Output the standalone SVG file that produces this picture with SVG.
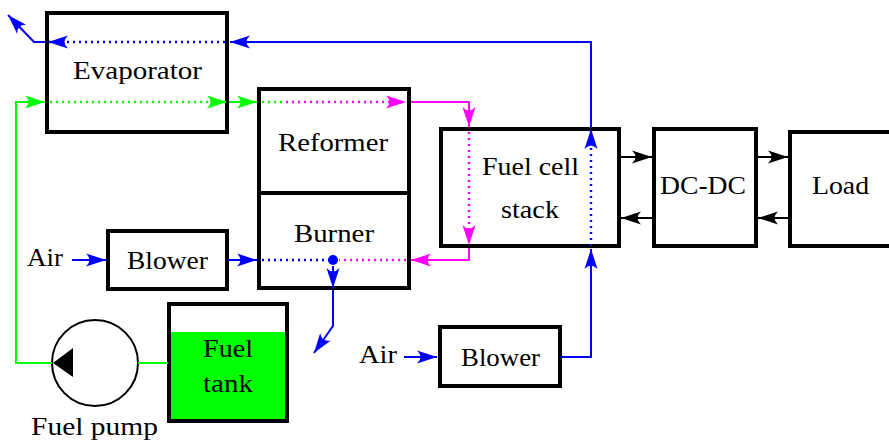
<svg xmlns="http://www.w3.org/2000/svg" width="889" height="444" viewBox="0 0 889 444">
<style>
.box{fill:#fff;stroke:#000;stroke-width:4}
.t{font-family:"Liberation Serif","DejaVu Serif",serif;font-size:26px;fill:#000}
.c{fill:none;stroke-width:2}
.b{stroke:#0000ff}
.g{stroke:#00ff00}
.m{stroke:#ff00ff}
.k{stroke:#000}
.d{stroke-dasharray:2 4;stroke-width:2.4}
</style>
<defs>
<marker id="ab" markerUnits="userSpaceOnUse" viewBox="-21 -8 22 16" markerWidth="22" markerHeight="16" refX="0" refY="0" orient="auto"><path d="M0,0 L-20,-6.5 Q-13,0 -20,6.5 Z" fill="#0000ff"/></marker>
<marker id="ag" markerUnits="userSpaceOnUse" viewBox="-21 -8 22 16" markerWidth="22" markerHeight="16" refX="0" refY="0" orient="auto"><path d="M0,0 L-20,-6.5 Q-13,0 -20,6.5 Z" fill="#00ff00"/></marker>
<marker id="am" markerUnits="userSpaceOnUse" viewBox="-21 -8 22 16" markerWidth="22" markerHeight="16" refX="0" refY="0" orient="auto"><path d="M0,0 L-20,-6.5 Q-13,0 -20,6.5 Z" fill="#ff00ff"/></marker>
<marker id="ak" markerUnits="userSpaceOnUse" viewBox="-21 -8 22 16" markerWidth="22" markerHeight="16" refX="0" refY="0" orient="auto"><path d="M0,0 L-20,-6.5 Q-13,0 -20,6.5 Z" fill="#000"/></marker>
</defs>

<g id="evaporator"><rect class="box" x="47" y="13" width="180" height="119"/><text class="t" x="73" y="79" textLength="129" lengthAdjust="spacingAndGlyphs">Evaporator</text></g>
<g id="reformer"><rect class="box" x="259" y="89" width="150" height="104"/><text class="t" x="278" y="151" textLength="110" lengthAdjust="spacingAndGlyphs">Reformer</text></g>
<g id="burner"><rect class="box" x="259" y="193" width="150" height="95"/><text class="t" x="294" y="242" textLength="80" lengthAdjust="spacingAndGlyphs">Burner</text></g>
<g id="stack"><rect class="box" x="441" y="129" width="178" height="117"/><text class="t" x="482" y="175" textLength="97" lengthAdjust="spacingAndGlyphs">Fuel cell</text><text class="t" x="501" y="218" textLength="58" lengthAdjust="spacingAndGlyphs">stack</text></g>
<g id="dcdc"><rect class="box" x="654" y="129" width="102" height="117"/><text class="t" x="660" y="194" textLength="86" lengthAdjust="spacingAndGlyphs">DC-DC</text></g>
<g id="load"><rect class="box" x="790" y="132" width="120" height="114"/><text class="t" x="812" y="194" textLength="57" lengthAdjust="spacingAndGlyphs">Load</text></g>
<g id="blower1"><rect class="box" x="108" y="231" width="119" height="58"/><text class="t" x="127" y="269" textLength="81" lengthAdjust="spacingAndGlyphs">Blower</text></g>
<g id="blower2"><rect class="box" x="440" y="327" width="120" height="59"/><text class="t" x="461" y="366" textLength="79" lengthAdjust="spacingAndGlyphs">Blower</text></g>
<g id="tank"><rect x="169" y="332" width="118" height="89" fill="#00ff00"/><rect x="169" y="304" width="118" height="117" fill="none" stroke="#000" stroke-width="4"/><text class="t" x="203" y="357" textLength="50" lengthAdjust="spacingAndGlyphs">Fuel</text><text class="t" x="203" y="392" textLength="50" lengthAdjust="spacingAndGlyphs">tank</text></g>
<g id="pump"><circle cx="95" cy="363" r="43" fill="#fff" stroke="#000" stroke-width="2"/><polygon points="53,363 73,348 73,377" fill="#000"/><text class="t" x="31" y="435" textLength="127" lengthAdjust="spacingAndGlyphs">Fuel pump</text></g>
<g id="air1"><text class="t" x="27" y="266" textLength="36" lengthAdjust="spacingAndGlyphs">Air</text></g>
<g id="air2"><text class="t" x="359" y="363" textLength="38" lengthAdjust="spacingAndGlyphs">Air</text></g>

<g id="connectors">
<path class="c b" d="M591,127 V42 H230" marker-end="url(#ab)"/>
<path class="c b d" d="M225,42 H48" marker-end="url(#ab)"/>
<path class="c b" d="M45,42 H34 L8,15" marker-end="url(#ab)"/>
<path class="c b d" d="M591,246 V129" marker-end="url(#ab)"/>
<path class="c b" d="M561,357 H591 V249" marker-end="url(#ab)"/>
<path class="c b" d="M404,357 H437" marker-end="url(#ab)"/>
<path class="c b" d="M72,260 H106" marker-end="url(#ab)"/>
<path class="c b" d="M228,260 H257" marker-end="url(#ab)"/>
<path class="c b d" d="M262,260 H329"/>
<circle cx="333" cy="260" r="5" fill="#0000ff"/>
<path class="c b" d="M333,266 V288" marker-end="url(#ab)"/>
<path class="c b" d="M333,290 V326 L314,353" marker-end="url(#ab)"/>

<path class="c g" d="M138,363 H168"/>
<path class="c g" d="M52,363 H16 V102 H45" marker-end="url(#ag)"/>
<path class="c g d" d="M50,102 H227" marker-end="url(#ag)"/>
<path class="c g" d="M229,102 H257" marker-end="url(#ag)"/>
<path class="c g d" d="M262,102 H283"/>
<path class="c m d" d="M286,102 H406" marker-end="url(#am)"/>
<path class="c m" d="M411,102 H469 V127" marker-end="url(#am)"/>
<path class="c m d" d="M469,132 V245" marker-end="url(#am)"/>
<path class="c m" d="M469,248 V260 H411" marker-end="url(#am)"/>
<path class="c m d" d="M406,260 H339"/>

<path class="c k" d="M621,157 H652" marker-end="url(#ak)"/>
<path class="c k" d="M652,218 H621" marker-end="url(#ak)"/>
<path class="c k" d="M758,157 H788" marker-end="url(#ak)"/>
<path class="c k" d="M788,218 H758" marker-end="url(#ak)"/>
</g>
</svg>
